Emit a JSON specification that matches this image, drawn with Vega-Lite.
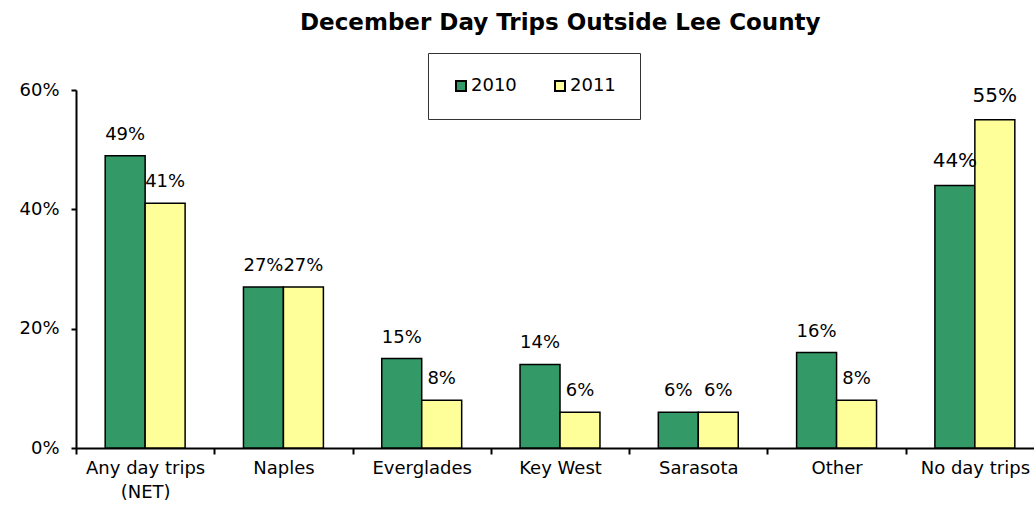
{
  "$schema": "https://vega.github.io/schema/vega-lite/v6.json",
  "width": 968,
  "height": 358,
  "autosize": {"type": "none"},
  "padding": {"left": 76, "top": 90, "right": 0, "bottom": 61},
  "background": "white",
  "config": {"view": {"stroke": null}},
  "title": {
    "text": "December Day Trips Outside Lee County",
    "font": "DejaVu Sans",
    "fontSize": 23,
    "fontWeight": "bold",
    "color": "black",
    "anchor": "start",
    "frame": "group",
    "dx": 224,
    "baseline": "alphabetic",
    "offset": 0
  },
  "data": {
    "values": [
      {"category": "Any day trips (NET)", "year": "2010", "value": 0.49},
      {"category": "Any day trips (NET)", "year": "2011", "value": 0.41},
      {"category": "Naples", "year": "2010", "value": 0.27},
      {"category": "Naples", "year": "2011", "value": 0.27},
      {"category": "Everglades", "year": "2010", "value": 0.15},
      {"category": "Everglades", "year": "2011", "value": 0.08},
      {"category": "Key West", "year": "2010", "value": 0.14},
      {"category": "Key West", "year": "2011", "value": 0.06},
      {"category": "Sarasota", "year": "2010", "value": 0.06},
      {"category": "Sarasota", "year": "2011", "value": 0.06},
      {"category": "Other", "year": "2010", "value": 0.16},
      {"category": "Other", "year": "2011", "value": 0.08},
      {"category": "No day trips", "year": "2010", "value": 0.44},
      {"category": "No day trips", "year": "2011", "value": 0.55}
    ]
  },
  "encoding": {
    "x": {
      "field": "category",
      "type": "nominal",
      "sort": null,
      "scale": {"paddingInner": 0, "paddingOuter": 0},
      "axis": {
        "title": null,
        "labelAngle": 0,
        "labelFont": "DejaVu Sans",
        "labelFontSize": 18,
        "labelColor": "black",
        "labelPadding": 5,
        "labelLineHeight": 24,
        "labelExpr": "datum.label == 'Any day trips (NET)' ? ['Any day trips', '(NET)'] : datum.label",
        "tickBand": "extent",
        "tickSize": 6,
        "tickColor": "black",
        "tickWidth": 2,
        "domainColor": "black",
        "domainWidth": 2
      }
    },
    "xOffset": {
      "field": "year",
      "type": "nominal",
      "scale": {"paddingInner": 0, "paddingOuter": 0.73}
    },
    "y": {
      "field": "value",
      "type": "quantitative",
      "scale": {"domain": [0, 0.6]},
      "axis": {
        "title": null,
        "values": [0, 0.2, 0.4, 0.6],
        "format": ".0%",
        "grid": false,
        "labelFont": "DejaVu Sans",
        "labelFontSize": 18,
        "labelColor": "black",
        "labelPadding": 12,
        "tickSize": 5,
        "tickColor": "black",
        "tickWidth": 2,
        "domainColor": "black",
        "domainWidth": 2
      }
    }
  },
  "layer": [
    {
      "mark": {"type": "bar", "stroke": "black", "strokeWidth": 1.5},
      "encoding": {
        "fill": {
          "field": "year",
          "type": "nominal",
          "scale": {"domain": ["2010", "2011"], "range": ["#339966", "#FFFF99"]},
          "legend": {
            "title": null,
            "orient": "none",
            "direction": "horizontal",
            "legendX": 352,
            "legendY": -37,
            "padding": 24,
            "columnPadding": 34,
            "strokeColor": "#333333",
            "symbolType": "square",
            "symbolSize": 100,
            "symbolStrokeColor": "black",
            "symbolStrokeWidth": 2,
            "symbolOffset": 0,
            "labelFont": "DejaVu Sans",
            "labelFontSize": 18,
            "labelColor": "black",
            "labelOffset": 1
          }
        }
      }
    },
    {
      "transform": [{"filter": "datum.category != 'No day trips'"}],
      "mark": {"type": "text", "baseline": "alphabetic", "dy": -16, "font": "DejaVu Sans", "fontSize": 18, "color": "black"},
      "encoding": {
        "text": {"field": "value", "type": "quantitative", "format": ".0%"}
      }
    },
    {
      "transform": [{"filter": "datum.category == 'No day trips'"}],
      "mark": {"type": "text", "baseline": "alphabetic", "dy": -18, "font": "DejaVu Sans", "fontSize": 20, "color": "black"},
      "encoding": {
        "text": {"field": "value", "type": "quantitative", "format": ".0%"}
      }
    }
  ]
}
